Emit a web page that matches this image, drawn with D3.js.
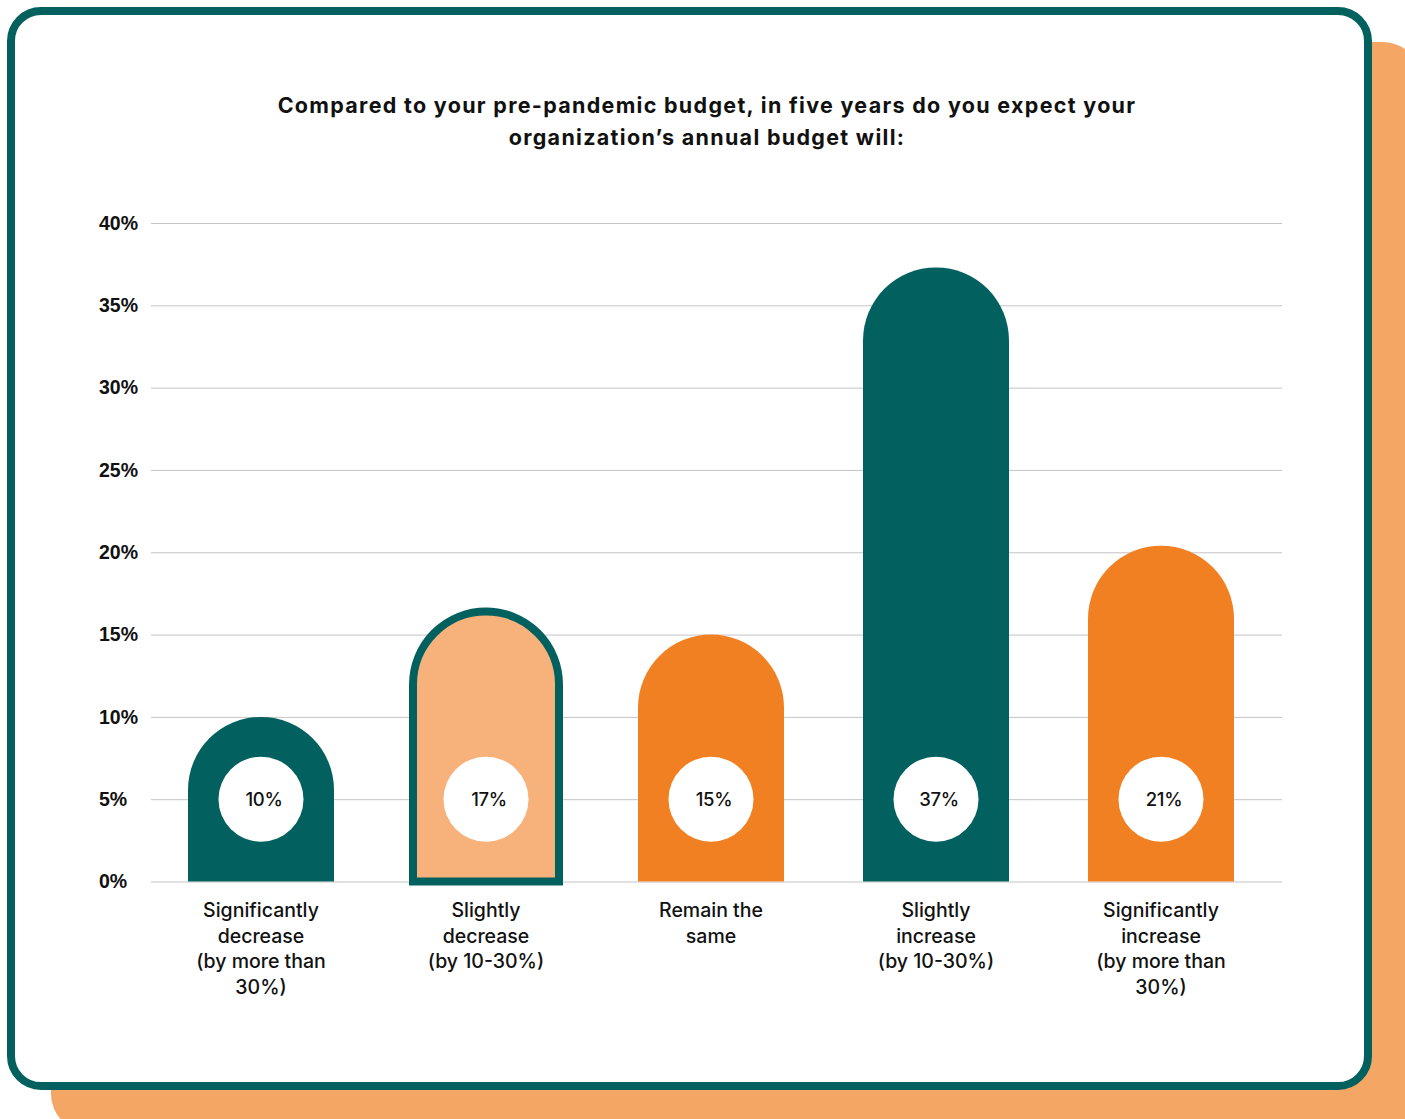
<!DOCTYPE html>
<html>
<head>
<meta charset="utf-8">
<script src="https://cdn.jsdelivr.net/npm/d3@7"></script>
<style>
  html, body { margin: 0; padding: 0; background: #fff; }
  svg { display: block; font-family: "Inter", "Open Sans", sans-serif; }
</style>
</head>
<body>
<div class="svg-container"></div>
<script>
/* DATA */
const categories = [
  ["Significantly", "decrease", "(by more than", "30%)"],
  ["Slightly", "decrease", "(by 10-30%)"],
  ["Remain the", "same"],
  ["Slightly", "increase", "(by 10-30%)"],
  ["Significantly", "increase", "(by more than", "30%)"]
];
const labels = [10, 17, 15, 37, 21];           // printed in the circles
const heights = [10, 16.4, 15, 37.3, 20.4];    // bar tops as drawn in the picture
const fills = ["#02615F", "#F7B27B", "#F18022", "#02615F", "#F18022"];
const outlined = [false, true, false, false, false];
const yTicks = [0, 5, 10, 15, 20, 25, 30, 35, 40];
const titleLines = [
  "Compared to your pre-pandemic budget, in five years do you expect your",
  "organization\u2019s annual budget will:"
];

/* CONSTANTS */
const width = 1405, height = 1119;
const teal = "#02615F";
const m = { top: 223, bottom: 1119 - 881.5, left: 151, right: 1405 - 1282 };

const svg = d3.select(".svg-container")
  .append("svg")
  .attr("width", width)
  .attr("height", height)
  .attr("viewBox", `0 0 ${width} ${height}`);

// CARD + SHADOW
svg.append("rect")
  .attr("x", 51).attr("y", 42)
  .attr("width", 1370).attr("height", 1090)
  .attr("rx", 38)
  .attr("fill", "#F4A765");

svg.append("rect")
  .attr("x", 11).attr("y", 11)
  .attr("width", 1357).attr("height", 1075)
  .attr("rx", 30)
  .attr("fill", "#fff")
  .attr("stroke", teal)
  .attr("stroke-width", 8);

// TITLE
svg.append("g")
  .selectAll("text")
  .data(titleLines)
  .join("text")
  .attr("x", 707)
  .attr("y", (d, i) => 113 + i * 32)
  .attr("text-anchor", "middle")
  .attr("font-size", 21.5)
  .attr("font-weight", 700)
  .attr("letter-spacing", 1.3)
  .attr("fill", "#111")
  .text(d => d);

// SCALES
const yScale = d3.scaleLinear()
  .domain([0, 40])
  .range([height - m.bottom, m.top]);

const xScale = d3.scaleBand()
  .domain(d3.range(categories.length))
  .range([148.5, 1273.5])
  .paddingInner(79 / 225)
  .paddingOuter(79 / 450);

// GRID + Y AXIS
const yAxis = d3.axisLeft(yScale)
  .tickValues(yTicks)
  .tickSize(-(width - m.right - m.left))
  .tickFormat(d => d + "%");

const axisG = svg.append("g")
  .attr("transform", `translate(${m.left},0)`)
  .call(yAxis);
axisG.select(".domain").remove();
axisG.selectAll(".tick line")
  .attr("stroke", "#C4C4C4")
  .attr("stroke-width", 1);
axisG.selectAll(".tick text")
  .attr("x", -52)
  .attr("text-anchor", "start")
  .attr("font-size", 19.5)
  .attr("font-weight", 600)
  .attr("fill", "#111");

// BARS (rounded tops)
function barPath(i) {
  const x0 = xScale(i), w = xScale.bandwidth(), r = w / 2;
  const yb = yScale(0), yt = yScale(heights[i]);
  return `M${x0},${yb} L${x0},${yt + r} A${r},${r} 0 0 1 ${x0 + w},${yt + r} L${x0 + w},${yb} Z`;
}

const bars = svg.append("g")
  .selectAll("g")
  .data(categories)
  .join("g");

bars.append("path")
  .attr("d", (d, i) => barPath(i))
  .attr("fill", (d, i) => fills[i])
  .attr("stroke", (d, i) => outlined[i] ? teal : "none")
  .attr("stroke-width", 8);

bars.append("circle")
  .attr("cx", (d, i) => xScale(i) + xScale.bandwidth() / 2)
  .attr("cy", yScale(5))
  .attr("r", 42.5)
  .attr("fill", "#fff");

bars.append("text")
  .attr("x", (d, i) => xScale(i) + xScale.bandwidth() / 2 + 3)
  .attr("y", yScale(5) + 7)
  .attr("text-anchor", "middle")
  .attr("font-size", 18.5)
  .attr("font-weight", 500)
  .attr("letter-spacing", -0.3)
  .attr("fill", "#111")
  .text((d, i) => labels[i] + "%");

// CATEGORY LABELS
bars.append("text")
  .attr("text-anchor", "middle")
  .attr("font-size", 19.5)
  .attr("font-weight", 500)
  .attr("fill", "#111")
  .selectAll("tspan")
  .data((d, i) => d.map(line => ({ line, i })))
  .join("tspan")
  .attr("x", d => xScale(d.i) + xScale.bandwidth() / 2)
  .attr("y", (d, j) => 917 + j * 25.7)
  .text(d => d.line);
</script>
</body>
</html>
